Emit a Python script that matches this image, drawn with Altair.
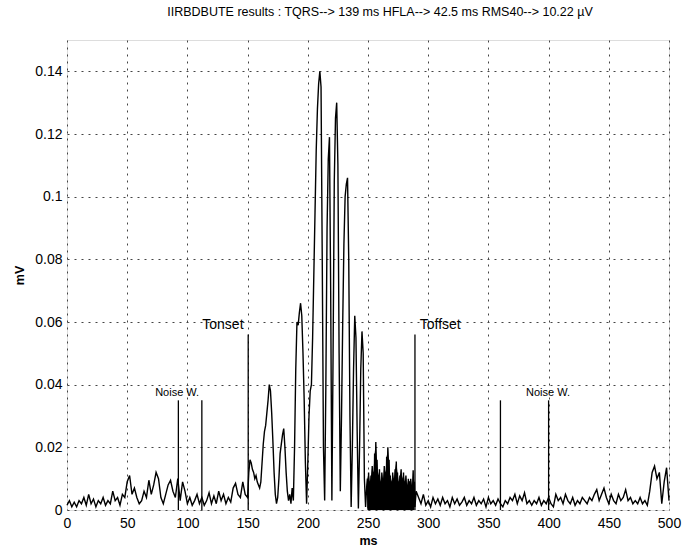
import altair as alt
import numpy as np
import pandas as pd

# ---- signal values (mV x 1000) ----
# segment A: 0..148 ms, step 2
seg_a = [1.5, 3, 1, 2.5, 1, 3, 2, 4, 1.5, 5, 2, 3.5, 1, 3, 2, 4, 1.5, 3, 2, 6,
         3, 4, 1.5, 5, 4, 9, 11, 5, 7, 4, 2, 3, 6, 4, 9.5, 5, 8, 12, 10, 4,
         2, 5, 8, 9.5, 6, 4, 10, 3, 9, 6, 2, 4, 1.5, 3, 5, 2, 4, 1.5, 3, 5.5,
         2, 4.5, 2, 6, 3, 5, 2, 4, 2.5, 7, 8.5, 5, 4, 9, 5]
# segment B: 150..249 ms, step 1 (QRS)
seg_b = [4, 12, 16, 15, 13, 12, 10, 11, 9, 8,
         7, 9, 15, 21, 25, 27, 31, 35, 40, 38,
         31, 22, 12, 5, 2, 4, 10, 18, 21, 24,
         26, 20, 12, 6, 3, 5, 2, 7, 3, 20,
         45, 60, 59, 63, 66, 62, 50, 35, 15, 2,
         15, 30, 38, 40, 55, 75, 95, 115, 128, 136,
         140, 135, 80, 20, 3, 40, 90, 112, 119, 70,
         3, 50, 105, 125, 130, 110, 50, 6, 30, 60,
         85, 100, 104, 106, 80, 30, 1, 20, 45, 62,
         55, 25, 0.5, 20, 45, 57, 50, 10, 1, 8]
# segment C: 249.5..289 ms, step 0.5 (late potentials)
seg_c = [10, 0.5, 12, 1, 9, 0.5, 11, 1, 14, 0.5,
         12, 1, 18, 1, 21.7, 0.5, 16, 1, 11, 0.5,
         13, 1, 9, 0.5, 12, 1, 10, 0.5, 14, 1,
         12, 0.5, 17, 1, 20, 1, 16, 0.5, 11, 1,
         9, 0.5, 12, 1, 10, 0.5, 13, 1, 15.5, 1,
         12, 0.5, 9, 1, 11, 0.5, 13, 1, 10, 0.5,
         12, 1, 9, 0.5, 11, 1, 8, 0.5, 10, 1,
         9, 0.5, 10, 1, 8, 0.5, 12.7, 1, 9, 1]
# segment D: 290..500 ms, step 2
seg_d = [6, 4, 2, 5, 1.5, 3, 1, 4, 2, 3.5, 1.5, 4, 2, 3, 1, 4, 2, 3.5, 1.5, 2.5,
         4, 1.5, 3, 2, 4, 1.5, 3, 2, 3.5, 1, 4, 2, 3, 1.5, 3.5, 2, 1, 3, 2, 4,
         3, 5, 2, 4.5, 3, 5.5, 2, 3, 1.5, 3, 2, 4, 1.5, 3, 2, 4, 2, 1, 5, 3,
         4, 2, 5, 3, 2, 4, 1.5, 3, 2, 4, 3, 2, 4, 3, 5, 6.5, 3, 5, 7, 4,
         2, 5, 3, 2, 5, 3, 4, 6.5, 3, 4, 2, 3, 2, 4, 2, 3, 1.5, 6, 12, 14,
         10, 12, 2, 9, 13.5, 3]

t_a = np.arange(len(seg_a)) * 2.0
t_b = 150 + np.arange(len(seg_b)) * 1.0
t_c = 249.5 + np.arange(len(seg_c)) * 0.5
t_d = 290 + np.arange(len(seg_d)) * 2.0

t = np.concatenate([t_a, t_b, t_c, t_d])
v = np.array(seg_a + seg_b + seg_c + seg_d) / 1000.0
sig = pd.DataFrame({"t": t, "v": v})

# filled body of the late-potential burst: the peak samples of segment C
blob = pd.DataFrame({"t": t_c[0::2], "v": np.array(seg_c[0::2]) / 1000.0})

# ---- markers ----
marker_x = [92.5, 112, 150.5, 289, 360, 400]
marker_top = [0.035, 0.035, 0.056, 0.056, 0.035, 0.035]
markers = pd.DataFrame({"x": marker_x, "y0": [0] * len(marker_x), "y1": marker_top})

label_text = ["Noise W.", "Tonset", "Toffset", "Noise W."]
label_x = [91.5, 129.5, 310, 399.5]
label_y = [0.0372, 0.0589, 0.0589, 0.0372]
label_size = [11, 14, 14, 11]
labels = pd.DataFrame({"text": label_text, "x": label_x, "y": label_y, "s": label_size})

x_ticks = list(range(0, 501, 50))
y_ticks = [0, 0.02, 0.04, 0.06, 0.08, 0.1, 0.12, 0.14]

FONT = "Liberation Sans"

xscale = alt.Scale(domain=[0, 500], nice=False, zero=False)
yscale = alt.Scale(domain=[0, 0.15], nice=False)

xaxis = alt.Axis(values=x_ticks, title="ms", grid=True, gridDash=[2, 5], gridColor="#444",
                 gridOpacity=1, ticks=False, domain=False, labelFontSize=14, labelFont=FONT,
                 labelColor="black", titleFont=FONT, titleFontSize=12.5, titleColor="black",
                 titleFontWeight="bold", labelPadding=6, titlePadding=4, labelFlush=False)
yaxis = alt.Axis(values=y_ticks, title="mV", format=".2~f", grid=True, gridDash=[2, 5],
                 gridColor="#444", gridOpacity=1, ticks=False, domain=False, labelFontSize=14,
                 labelFont=FONT, labelColor="black", titleFont=FONT, titleFontSize=12.5,
                 titleColor="black", titleFontWeight="bold", labelPadding=5, titlePadding=8,
                 labelFlush=False)

line = alt.Chart(sig).mark_line(color="black", strokeWidth=1.4).encode(
    x=alt.X("t:Q", scale=xscale, axis=xaxis),
    y=alt.Y("v:Q", scale=yscale, axis=yaxis),
)

blob_area = alt.Chart(blob).mark_area(color="black", opacity=1).encode(
    x=alt.X("t:Q", scale=xscale),
    y=alt.Y("v:Q", scale=yscale),
)

rules = alt.Chart(markers).mark_rule(color="black", strokeWidth=1.3).encode(
    x=alt.X("x:Q", scale=xscale),
    y=alt.Y("y0:Q", scale=yscale),
    y2="y1:Q",
)

text = alt.Chart(labels).mark_text(font=FONT, color="black", baseline="middle", align="center").encode(
    x=alt.X("x:Q", scale=xscale),
    y=alt.Y("y:Q", scale=yscale),
    text="text:N",
    size=alt.Size("s:Q", scale=None, legend=None),
)

chart = (blob_area + line + rules + text).properties(
    width=602,
    height=470,
    autosize=alt.AutoSizeParams(type="none"),
    padding={"left": 67, "top": 40, "right": 16, "bottom": 40},
    title=alt.TitleParams(
        "IIRBDBUTE results : TQRS--> 139 ms  HFLA--> 42.5 ms  RMS40--> 10.22 µV",
        font=FONT, fontSize=12.5, fontWeight="normal", color="black",
        anchor="middle", dx=12, offset=22,
    ),
).configure_view(stroke="black", strokeWidth=1.2).configure(background="white")

chart.save("out.html", embed_options={"renderer": "svg", "actions": False})
